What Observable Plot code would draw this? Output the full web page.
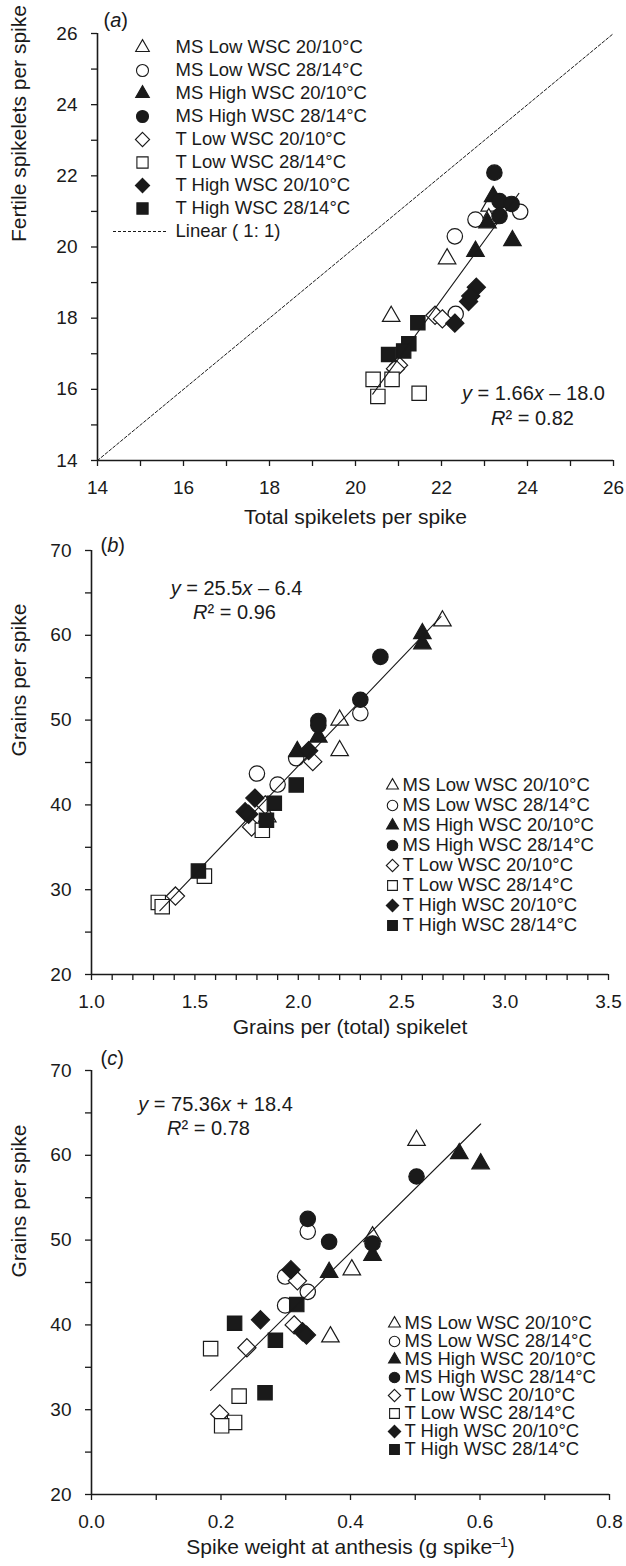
<!DOCTYPE html>
<html><head><meta charset="utf-8">
<script src="https://cdn.jsdelivr.net/npm/d3@7"></script>
<script src="https://cdn.jsdelivr.net/npm/@observablehq/plot@0.6"></script>
<style>
body{margin:0;background:#fff;}
#wrap{position:relative;width:626px;height:1566px;overflow:hidden;background:#fff;}
.layer{position:absolute;left:0;}
</style></head><body><div id="wrap"></div>
<script>
const FONT = '"Liberation Sans", Arial, Helvetica, sans-serif';
const INK = "#1a1a1a";

// ---------- groups ----------
const groups = ["MS Low WSC 20/10°C","MS Low WSC 28/14°C","MS High WSC 20/10°C","MS High WSC 28/14°C",
                "T Low WSC 20/10°C","T Low WSC 28/14°C","T High WSC 20/10°C","T High WSC 28/14°C"];
const groupSymbols = ["triangle","circle","triangle","circle","diamond2","square","diamond2","square"];
const groupFilled = [false,false,true,true,false,false,true,true];
const symbolRadius = {triangle: 6.5, circle: 7.7, diamond2: 8.2, square: 8.1};

// ---------- panel (a): [group, total spikelets, fertile spikelets] ----------
const aPoints = [
 [0,22.13,19.67],[0,20.83,18.05],[0,23.12,21.15],[0,23.10,20.80],
 [1,22.79,20.77],[1,23.83,20.99],[1,22.31,20.30],[1,22.33,18.12],
 [2,23.20,21.42],[2,23.07,20.68],[2,23.65,20.18],[2,22.79,19.88],
 [3,23.23,22.09],[3,23.35,21.29],[3,23.63,21.21],[3,23.35,20.87],
 [4,21.85,18.08],[4,22.02,17.98],[4,21.00,16.68],[4,20.93,16.58],
 [5,20.41,16.28],[5,20.85,16.28],[5,20.52,15.80],[5,21.48,15.89],
 [6,22.81,18.87],[6,22.63,18.47],[6,22.31,17.86],[6,22.68,18.62],
 [7,21.45,17.87],[7,21.24,17.28],[7,21.12,17.08],[7,20.77,16.98]
];
const aFit = [1.66, -18.0];
const aFitRange = [20.4, 23.8];
const aOneToOne = [14, 26];
const aTicks = [14,16,18,20,22,24,26];
const aMinor = [15,17,19,21,23,25];

// ---------- panel (b): [group, grains per spikelet, grains per spike] ----------
const bPoints = [
 [0,2.697,61.7],[0,2.20,50.0],[0,2.20,46.4],[0,1.85,38.6],
 [1,2.30,50.8],[1,1.99,45.5],[1,1.80,43.7],[1,1.90,42.4],
 [2,2.60,60.2],[2,2.60,59.0],[2,2.097,48.0],[2,1.995,46.3],
 [3,2.397,57.45],[3,2.30,52.4],[3,2.097,49.9],[3,2.097,49.4],
 [4,2.07,45.1],[4,1.774,37.4],[4,1.406,29.25],[4,1.84,40.0],
 [5,1.826,37.0],[5,1.546,31.6],[5,1.323,28.5],[5,1.342,28.0],
 [6,2.05,46.4],[6,1.79,40.8],[6,1.743,39.2],[6,1.76,38.9],
 [7,1.99,42.35],[7,1.884,40.2],[7,1.846,38.2],[7,1.517,32.2]
];
const bFit = [25.5, -6.4];
const bFitRange = [1.33, 2.69];
const bXTicks = [1.0,1.5,2.0,2.5,3.0,3.5];
const bXMinor = [1.1,1.2,1.3,1.4,1.6,1.7,1.8,1.9,2.1,2.2,2.3,2.4,2.6,2.7,2.8,2.9,3.1,3.2,3.3,3.4];
const gYTicks = [20,30,40,50,60,70];
const gYMinor = [25,35,45,55,65];

// ---------- panel (c): [group, spike weight, grains per spike] ----------
const cPoints = [
 [0,0.502,61.76],[0,0.434,50.4],[0,0.402,46.5],[0,0.369,38.6],
 [1,0.334,51.0],[1,0.299,45.7],[1,0.334,43.9],[1,0.299,42.3],
 [2,0.568,60.2],[2,0.601,59.0],[2,0.434,48.2],[2,0.367,46.2],
 [3,0.502,57.5],[3,0.334,52.5],[3,0.367,49.8],[3,0.434,49.6],
 [4,0.318,45.2],[4,0.313,40.0],[4,0.240,37.3],[4,0.198,29.5],
 [5,0.184,37.2],[5,0.228,31.6],[5,0.221,28.5],[5,0.201,28.1],
 [6,0.308,46.5],[6,0.261,40.6],[6,0.326,39.2],[6,0.332,38.8],
 [7,0.317,42.4],[7,0.221,40.2],[7,0.284,38.2],[7,0.268,32.0]
];
const cFit = [75.36, 18.4];
const cFitRange = [0.184, 0.601];
const cXTicks = [0.0,0.2,0.4,0.6,0.8];
const cXMinor = [0.1,0.3,0.5,0.7];

// ---------- texts ----------
const aEq = "y = 1.66x – 18.0", aR2 = "R² = 0.82";
const bEq = "y = 25.5x – 6.4", bR2 = "R² = 0.96";
const cEq = "y = 75.36x + 18.4", cR2 = "R² = 0.78";
const linearLabel = "Linear ( 1: 1)";
const cXTitleParts = ["Spike weight at anthesis (g spike", "–1", ")"];

const italicTexts = ["(a)","(b)","(c)", aEq, aR2, bEq, bR2, cEq, cR2];

function isIn(list, v){ return list.some(t => Math.abs(t - v) < 1e-9); }

function panel(cfg){
  const marks = [];
  if (cfg.oneToOne) marks.push(Plot.line(cfg.oneToOne, {x: d => d, y: d => d, stroke: INK, strokeWidth: 1, strokeDasharray: "3,2"}));
  groups.forEach((g, i) => {
    const s = groupSymbols[i];
    marks.push(Plot.dot(cfg.points.filter(p => p[0] === i), {
      x: p => p[1], y: p => p[2], symbol: s, r: symbolRadius[s],
      fill: groupFilled[i] ? INK : "#fff", stroke: INK, strokeWidth: 1.2
    }));
  });
  marks.push(Plot.line(cfg.fitRange.map(x => ({x, y: cfg.fit[0] * x + cfg.fit[1]})), {x: "x", y: "y", stroke: INK, strokeWidth: 1.1}));
  marks.push(Plot.ruleX([cfg.xDomain[0]], {stroke: INK, strokeWidth: 1.6}));
  marks.push(Plot.ruleY([cfg.yDomain[0]], {stroke: INK, strokeWidth: 1.6}));
  const xAll = [...cfg.xTicks, ...cfg.xMinor].sort((a,b)=>a-b);
  const yAll = [...cfg.yTicks, ...cfg.yMinor].sort((a,b)=>a-b);
  marks.push(Plot.axisX({ticks: xAll, tickFormat: d => isIn(cfg.xTicks, d) ? cfg.xFmt(d) : "", tickSize: 6, tickPadding: 14, label: null, fontSize: 19, strokeWidth: 1.3}));
  marks.push(Plot.axisY({ticks: yAll, tickFormat: d => isIn(cfg.yTicks, d) ? cfg.yFmt(d) : "", tickSize: 6, tickPadding: 14, label: null, fontSize: 19, strokeWidth: 1.3}));
  marks.push(Plot.text([cfg.xTitle], {text: d => d, frameAnchor: "bottom", dy: cfg.xTitleDy, fontSize: 21, lineAnchor: "middle", fill: INK}));
  marks.push(Plot.text([cfg.yTitle], {text: d => d, frameAnchor: "left", dx: cfg.yTitleDx, dy: cfg.yTitleDy, rotate: -90, fontSize: 21, lineAnchor: "middle", fill: INK}));
  marks.push(Plot.text([cfg.tag], {text: d => d, frameAnchor: "top-left", dx: cfg.tagPos[0], dy: cfg.tagPos[1], textAnchor: "start", fontSize: 20, lineAnchor: "middle", fill: INK}));
  marks.push(Plot.text([cfg.eq], {text: d => d, frameAnchor: "top-left", dx: cfg.eqPos[0], dy: cfg.eqPos[1], textAnchor: "middle", fontSize: 20, lineAnchor: "middle", fill: INK}));
  marks.push(Plot.text([cfg.r2], {text: d => d, frameAnchor: "top-left", dx: cfg.r2Pos[0], dy: cfg.r2Pos[1], textAnchor: "middle", fontSize: 20, lineAnchor: "middle", fill: INK}));
  return Plot.plot({
    width: 626, height: cfg.height,
    marginLeft: cfg.margin[0], marginRight: cfg.margin[1], marginTop: cfg.margin[2], marginBottom: cfg.margin[3],
    x: {domain: cfg.xDomain, axis: null},
    y: {domain: cfg.yDomain, axis: null},
    style: {fontFamily: FONT, fontSize: "19px", color: INK, background: "transparent", overflow: "visible"},
    marks
  });
}

function legendLayer(cfg){
  const rows = cfg.rows;
  const marks = [];
  rows.forEach((label, i) => {
    if (i < groups.length) {
      const s = groupSymbols[i];
      marks.push(Plot.dot([label], {y: d => d, frameAnchor: "left", dx: cfg.symX, symbol: s, r: symbolRadius[s] * cfg.symScale,
        fill: groupFilled[i] ? INK : "#fff", stroke: INK, strokeWidth: 1.1}));
    }
  });
  if (cfg.dash) marks.push(Plot.ruleY([linearLabel], {y: d => d, x1: cfg.dash[0], x2: cfg.dash[1], stroke: INK, strokeWidth: 1, strokeDasharray: "3,2"}));
  marks.push(Plot.text(rows, {y: d => d, text: d => d, frameAnchor: "left", dx: cfg.textX, textAnchor: "start", fontSize: 18.5, fill: INK}));
  return Plot.plot({
    width: 626, height: cfg.height, margin: 0,
    x: {type: "identity", axis: null},
    y: {type: "point", domain: rows, range: cfg.yRange, axis: null},
    style: {fontFamily: FONT, fontSize: "18.5px", color: INK, background: "transparent", overflow: "visible"},
    marks
  });
}

function richify(svg){
  d3.select(svg).selectAll("text").each(function(){
    const s = this.textContent;
    const t = d3.select(this);
    if (italicTexts.includes(s)) {
      const segs = s.match(/[A-Za-z]+|[^A-Za-z]+/g);
      t.selectAll("*").remove(); t.text(null);
      segs.forEach(seg => t.append("tspan").attr("font-style", /[A-Za-z]/.test(seg) ? "italic" : null).text(seg));
    } else if (s === cXTitleParts.join("")) {
      t.selectAll("*").remove(); t.text(null);
      t.append("tspan").text(cXTitleParts[0]);
      t.append("tspan").attr("dy", -7).attr("font-size", 14).text(cXTitleParts[1]);
      t.append("tspan").attr("dy", 7).text(cXTitleParts[2]);
    }
  });
  return svg;
}

const wrap = document.getElementById("wrap");
function place(node, top){
  const div = document.createElement("div");
  div.className = "layer"; div.style.top = top + "px";
  div.appendChild(node); wrap.appendChild(div);
}

const fmtInt = d => String(d);
const fmt1 = d3.format(".1f");

place(richify(panel({
  points: aPoints, fit: aFit, fitRange: aFitRange, oneToOne: aOneToOne,
  xDomain: [14, 26], yDomain: [14, 26], xTicks: aTicks, xMinor: aMinor, yTicks: aTicks, yMinor: aMinor,
  xFmt: fmtInt, yFmt: fmtInt, height: 525, margin: [97, 13, 33, 65],
  xTitle: "Total spikelets per spike", yTitle: "Fertile spikelets per spike", xTitleDy: 57, yTitleDx: -78, yTitleDy: -5,
  tag: "(a)", tagPos: [6, -13], eq: aEq, eqPos: [436, 360], r2: aR2, r2Pos: [435, 385]
})), 0);

place(richify(panel({
  points: bPoints, fit: bFit, fitRange: bFitRange,
  xDomain: [1, 3.5], yDomain: [20, 70], xTicks: bXTicks, xMinor: bXMinor, yTicks: gYTicks, yMinor: gYMinor,
  xFmt: fmt1, yFmt: fmtInt, height: 515, margin: [91, 18, 25, 66],
  xTitle: "Grains per (total) spikelet", yTitle: "Grains per spike", xTitleDy: 53, yTitleDx: -72, yTitleDy: -6,
  tag: "(b)", tagPos: [9, -5], eq: bEq, eqPos: [145, 38], r2: bR2, r2Pos: [143, 62]
})), 525);

place(richify(panel({
  points: cPoints, fit: cFit, fitRange: cFitRange,
  xDomain: [0, 0.8], yDomain: [20, 70], xTicks: cXTicks, xMinor: cXMinor, yTicks: gYTicks, yMinor: gYMinor,
  xFmt: fmt1, yFmt: fmtInt, height: 526, margin: [91, 17, 30, 72],
  xTitle: cXTitleParts.join(""), yTitle: "Grains per spike", xTitleDy: 53, yTitleDx: -72, yTitleDy: -5,
  tag: "(c)", tagPos: [9, -12], eq: cEq, eqPos: [124, 34], r2: cR2, r2Pos: [117, 58]
})), 1040);

place(legendLayer({rows: [...groups, linearLabel], height: 270, yRange: [33.3, 245.7], symX: 142, textX: 175, dash: [113, 168], symScale: 0.78}), 0);
place(legendLayer({rows: groups, height: 515, yRange: [247, 412], symX: 392, textX: 402, symScale: 0.68}), 525);
place(legendLayer({rows: groups, height: 526, yRange: [273, 419], symX: 394, textX: 404, symScale: 0.68}), 1040);
</script></body></html>
